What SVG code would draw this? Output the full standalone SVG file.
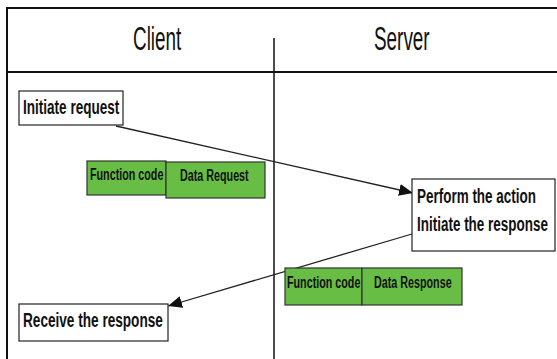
<svg xmlns="http://www.w3.org/2000/svg" width="557" height="359" viewBox="0 0 557 359">
<defs>
<style>
.frame{fill:none;stroke:#111;stroke-width:2}
.box{fill:#fff;stroke:#222;stroke-width:1.2}
.green{fill:#68bd45;stroke:#333;stroke-width:1.2}
.hdr{font-family:"Liberation Sans",Arial,sans-serif;font-size:33px;fill:#111}
.lbl{font-family:"Liberation Sans",Arial,sans-serif;font-size:21px;font-weight:bold;fill:#111}
.glbl{font-family:"Liberation Sans",Arial,sans-serif;font-size:17px;font-weight:bold;fill:#111}
.conn{fill:none;stroke:#222;stroke-width:1.3}
</style>
<marker id="ah" viewBox="0 0 14 12" refX="14" refY="6" markerWidth="14" markerHeight="12" markerUnits="userSpaceOnUse" orient="auto">
<path d="M0,0 L14,6 L0,12 Z" fill="#111"/>
</marker>
</defs>
<rect width="557" height="359" fill="#fff"/>
<g id="frame">
<path class="frame" d="M7,370 V8 H570"/>
<line class="frame" x1="7" y1="72" x2="570" y2="72"/>
<line x1="274" y1="38" x2="274" y2="370" stroke="#111" stroke-width="1.5"/>
</g>
<g id="client-header"><text class="hdr" transform="translate(133,50) scale(0.573,1)">Client</text></g>
<g id="server-header"><text class="hdr" transform="translate(374,50) scale(0.573,1)">Server</text></g>
<g id="connectors">
<line class="conn" x1="116" y1="126" x2="413" y2="193" marker-end="url(#ah)"/>
<line class="conn" x1="412" y1="234" x2="168" y2="306" marker-end="url(#ah)"/>
</g>
<g id="initiate-request">
<rect class="box" x="19" y="91" width="104" height="34"/>
<text class="lbl" transform="translate(23,114) scale(0.645,1)">Initiate request</text>
</g>
<g id="request-pdu">
<rect class="green" x="87" y="161" width="79" height="34"/>
<text class="glbl" transform="translate(90,180) scale(0.632,1)">Function code</text>
<rect class="green" x="166" y="162" width="99" height="36"/>
<text class="glbl" transform="translate(180,181) scale(0.632,1)">Data Request</text>
</g>
<g id="perform-action">
<rect class="box" x="412" y="179" width="143" height="72"/>
<text class="lbl" transform="translate(417,203) scale(0.642,1)">Perform the action</text>
<text class="lbl" transform="translate(417,231) scale(0.642,1)">Initiate the response</text>
</g>
<g id="response-pdu">
<rect class="green" x="285" y="268" width="77" height="37"/>
<text class="glbl" transform="translate(287,288) scale(0.632,1)">Function code</text>
<rect class="green" x="362" y="268" width="100" height="37"/>
<text class="glbl" transform="translate(374,288) scale(0.632,1)">Data Response</text>
</g>
<g id="receive-response">
<rect class="box" x="19" y="304" width="149" height="37"/>
<text class="lbl" transform="translate(23,327) scale(0.648,1)">Receive the response</text>
</g>
</svg>
